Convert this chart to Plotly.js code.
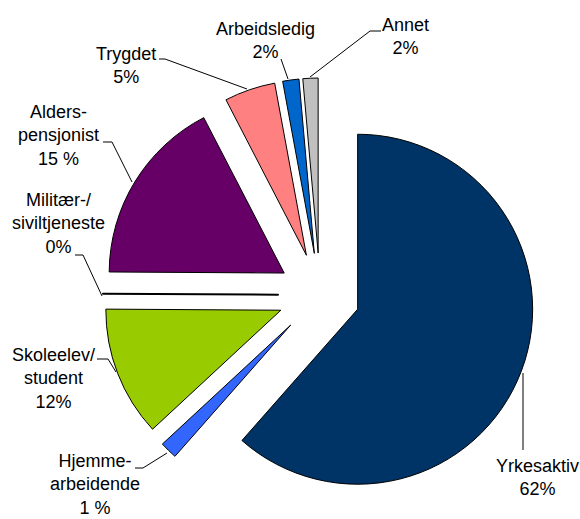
<!DOCTYPE html>
<html>
<head>
<meta charset="utf-8">
<script src="https://cdn.plot.ly/plotly-3.0.1.min.js"></script>
<style>html,body{margin:0;padding:0;background:#fff;}#chart{width:580px;height:519px;}</style>
</head>
<body>
<div id="chart"></div>
<script>
// Data
var categories = ['Yrkesaktiv', 'Hjemmearbeidende', 'Skoleelev/student', 'Militær-/siviltjeneste', 'Alderspensjonist', 'Trygdet', 'Arbeidsledig', 'Annet'];
var values = [61.5, 1.6, 12.0, 0, 17.3, 4.7, 1.5, 1.4];
var labelNames = ['Yrkesaktiv', 'Hjemme-<br>arbeidende', 'Skoleelev/<br>student', 'Militær-/<br>siviltjeneste', 'Alders-<br>pensjonist', 'Trygdet', 'Arbeidsledig', 'Annet'];
var labelPercents = ['62%', '1 %', '12%', '0%', '15 %', '5%', '2%', '2%'];
var colors = ['#003366', '#3366FF', '#99CC00', '#FFFFFF', '#660066', '#FF8080', '#0066CC', '#C0C0C0'];

var W = 580, H = 519;
function px(x) { return x / W; }
function py(y) { return 1 - y / H; }

// label anchor positions (pixels) and leader line paths (pixels)
var labelPos = [[537, 477], [95, 484], [53, 378], [58, 224], [58, 136], [126, 65], [265, 40], [405, 37]];
var leaders = [
  [[523, 373], [523, 450]],
  [[135, 468], [143, 468], [167, 453]],
  [[97, 359], [108, 359], [116, 372]],
  [[75, 255], [83, 255], [102, 296]],
  [[103, 142], [112, 142], [132, 182]],
  [[159, 59], [165, 59], [247, 89]],
  [[281, 59], [288, 79]],
  [[381, 31], [370, 31], [310, 77]]
];

var cx = 320, cy = 295, box = 434;

var trace = {
  type: 'pie',
  labels: categories,
  values: values,
  sort: false,
  direction: 'clockwise',
  rotation: 0,
  pull: [0.23, 0.24, 0.24, 0.24, 0.24, 0.24, 0.24, 0.24],
  marker: { colors: colors, line: { color: '#000000', width: [1, 1, 1, 2, 1, 1, 1, 1] } },
  textinfo: 'none',
  hoverinfo: 'label+percent',
  showlegend: false,
  domain: { x: [px(cx - box / 2), px(cx + box / 2)], y: [py(cy + box / 2), py(cy - box / 2)] }
};

var annotations = categories.map(function (c, i) {
  return {
    text: labelNames[i] + '<br>' + labelPercents[i],
    x: px(labelPos[i][0]), y: py(labelPos[i][1]),
    xref: 'paper', yref: 'paper',
    xanchor: 'center', yanchor: 'middle',
    showarrow: false,
    font: { family: 'Liberation Sans, Arial, sans-serif', size: 18, color: '#000000' }
  };
});

var shapes = leaders.map(function (pts) {
  var d = pts.map(function (p, j) { return (j === 0 ? 'M ' : 'L ') + px(p[0]) + ' ' + py(p[1]); }).join(' ');
  return { type: 'path', path: d, xref: 'paper', yref: 'paper', line: { color: '#000000', width: 1 } };
});

var layout = {
  width: W, height: H,
  margin: { l: 0, r: 0, t: 0, b: 0 },
  paper_bgcolor: '#FFFFFF',
  plot_bgcolor: '#FFFFFF',
  annotations: annotations,
  shapes: shapes
};

Plotly.newPlot('chart', [trace], layout, { displayModeBar: false, staticPlot: true });
</script>
</body>
</html>
